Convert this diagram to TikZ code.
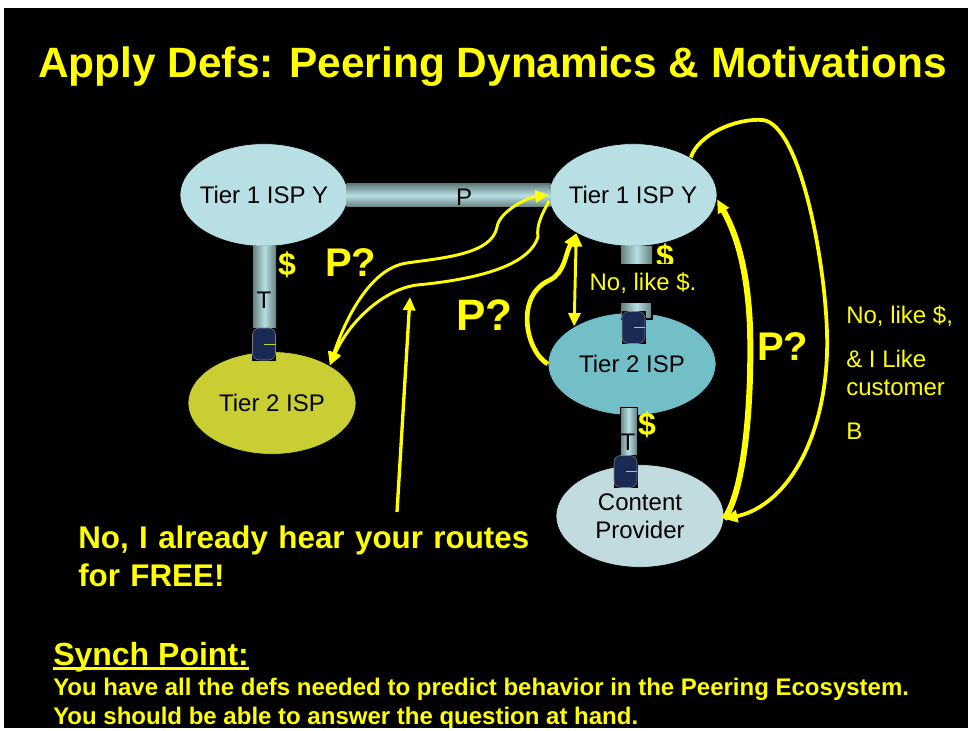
\documentclass[tikz,border=0pt]{standalone}
\usepackage{fontspec}
\setmainfont{Liberation Sans}
\usetikzlibrary{shapes.geometric,arrows.meta}
\definecolor{tierblue}{HTML}{B8DFE4}
\definecolor{tiertwo}{HTML}{73BFC8}
\definecolor{tierolive}{HTML}{C9CF33}
\definecolor{contentblue}{HTML}{C1DBDE}
\definecolor{tubedark}{HTML}{66807F}
\definecolor{plugnavy}{HTML}{1B2A55}
\definecolor{ylw}{HTML}{FFFF00}
\tikzset{
  isp/.style={ellipse,draw=black,line width=.5pt,inner sep=-12pt,minimum width=126pt,minimum height=77pt,align=center,text=black,font=\fontsize{18}{21}\selectfont},
  tubeh/.style={rectangle,inner sep=0pt,top color=tubedark,bottom color=tubedark,middle color=tierblue},
  tubev/.style={rectangle,inner sep=0pt,left color=tubedark,right color=tubedark,middle color=tierblue},
  smalltxt/.style={text=black,font=\fontsize{18}{22}\selectfont,inner sep=0pt},
  ylwtxt/.style={text=ylw,font=\fontsize{18}{22}\selectfont,inner sep=0pt,anchor=west},
  dollar/.style={text=ylw,font=\bfseries\fontsize{24}{24}\selectfont,inner sep=0pt},
  bold/.style={text=ylw,inner sep=0pt,anchor=west,font=\bfseries\fontsize{#1}{#1}\selectfont},
  ylwline/.style={draw=ylw,line width=#1,-{Triangle[length=10pt,width=9pt]}},
  ylwboth/.style={draw=ylw,line width=#1,{Triangle[length=10pt,width=9pt]}-{Triangle[length=10pt,width=9pt]}}
}
\begin{document}
\begin{tikzpicture}[x=.75pt,y=-.75pt]
\useasboundingbox (0,0) rectangle (968,731);
\fill[white] (0,0) rectangle (968,731);
\fill[black] (4,8) rectangle (968,728);
\node[bold=31.8] (title) at (38,67) {Apply Defs: Peering Dynamics \& Motivations};
% clouds
\node[isp,fill=tierblue] (ispa) at (264,195) {Tier 1 ISP Y};
\node[isp,fill=tierblue] (ispb) at (633,195) {Tier 1 ISP Y};
\node[isp,fill=tierolive] (tiera) at (272,403) {Tier 2 ISP};
\node[isp,fill=tiertwo] (tierb) at (632,364) {Tier 2 ISP};
\node[isp,fill=contentblue] (cont) at (640,516) {Content\\Provider};
% links
\node[tubeh,minimum width=153pt,minimum height=17.25pt] (peer) at (448.5,195.5) {};
\node[tubev,minimum width=17.25pt,minimum height=60.75pt] (transa) at (264.5,287.5) {};
\node[tubev,minimum width=23.25pt,minimum height=54pt] (transb) at (636.5,283) {};
\node[tubev,draw=black,minimum width=12.75pt,minimum height=36.75pt] (transc) at (628.5,431.5) {};
\node[dollar] (dolb) at (665,257) {\$};
\node[fill=black,text=ylw,font=\fontsize{18}{22}\selectfont,inner sep=0pt,minimum width=84pt,minimum height=29.25pt] (nolike) at (643,283.5) {No, like \$.};
\draw[black,line width=.8pt] (621,319) -- (652,319) -- (652,302);
\foreach \nm/\px/\py in {pluga/264/344,plugb/633.5/327.5,plugc/625.5/471.5}{
  \node[fill=black,inner sep=0pt,minimum width=18pt,minimum height=24.75pt] (\nm bg) at (\px,\py) {};
  \node[fill=plugnavy,draw=gray,line width=.4pt,rounded corners=5pt,inner sep=0pt,minimum width=17.25pt,minimum height=24pt] (\nm) at (\px,\py) {};
  \draw[draw=tierolive,line width=.7pt] (\nm.center) -- (\nm.east);
}
\node[smalltxt] (plab) at (464,197) {P};
\node[smalltxt] (talab) at (264,300) {T};
\node[smalltxt] (tclab) at (628,442) {T};
% money
\node[dollar] (dola) at (287,265) {\$};
\node[dollar] (dolc) at (647,425) {\$};
% questions
\node[bold=30] (qa) at (325,263) {P?};
\node[bold=33] (qb) at (456,315) {P?};
\node[bold=30] (qc) at (757,347) {P?};
% arrows
\draw[ylwboth=2.2pt] (tiera.33) .. controls (345,320) and (370,268) .. (407,263) .. controls (440,258) and (492,255) .. (497,227) .. controls (500,210) and (530,197) .. (ispb.180);
\draw[ylwline=2.2pt] (ispb.184) .. controls (543,212) and (536,225) .. (538,237) .. controls (530,262) and (490,278) .. (417,285) .. controls (385,289) and (350,320) .. (tiera.33);
\draw[ylwline=3.5pt] (tierb.180) .. controls (525,350) and (515,295) .. (550,280) .. controls (565,272) and (565,255) .. (ispb.214);
\draw[ylwboth=2.2pt] (ispb.214) -- (tierb.147);
\draw[ylwline=4.5pt] (cont.358) .. controls (745,490) and (752,400) .. (750,327) .. controls (748,280) and (740,240) .. (ispb.357);
\draw[ylwline=2.8pt] (ispb.33) .. controls (698,135) and (735,118) .. (763,120) .. controls (800,125) and (825,260) .. (827,333) .. controls (830,430) and (790,505) .. (cont.358);
\coordinate (noend) at (410,297);
\node[bold=23.5,text width=345pt,align=left,font=\bfseries\fontsize{23.5}{28.5}\selectfont] (noi) at (78,556) {No, I already hear your routes\\for FREE!};
\draw[ylwline=2.5pt] (397,512) -- (noend);
% side note
\node[ylwtxt] (sidea) at (846,316) {No, like \$,};
\node[ylwtxt] (sideb) at (846,359) {\& I Like};
\node[ylwtxt] (sidec) at (846,388) {customer};
\node[ylwtxt] (sided) at (846,431) {B};
% synch
\node[bold=24] (synch) at (53,657) {Synch Point:};
\draw[ylw,line width=2pt] ([yshift=3pt]synch.south west) -- ([yshift=3pt]synch.south east);
\node[bold=18] (linea) at (53,689) {You have all the defs needed to predict behavior in the Peering Ecosystem.};
\node[bold=18] (lineb) at (53,718) {You should be able to answer the question at hand.};
\fill[white] (0,728) rectangle (968,731);
\end{tikzpicture}
\end{document}
